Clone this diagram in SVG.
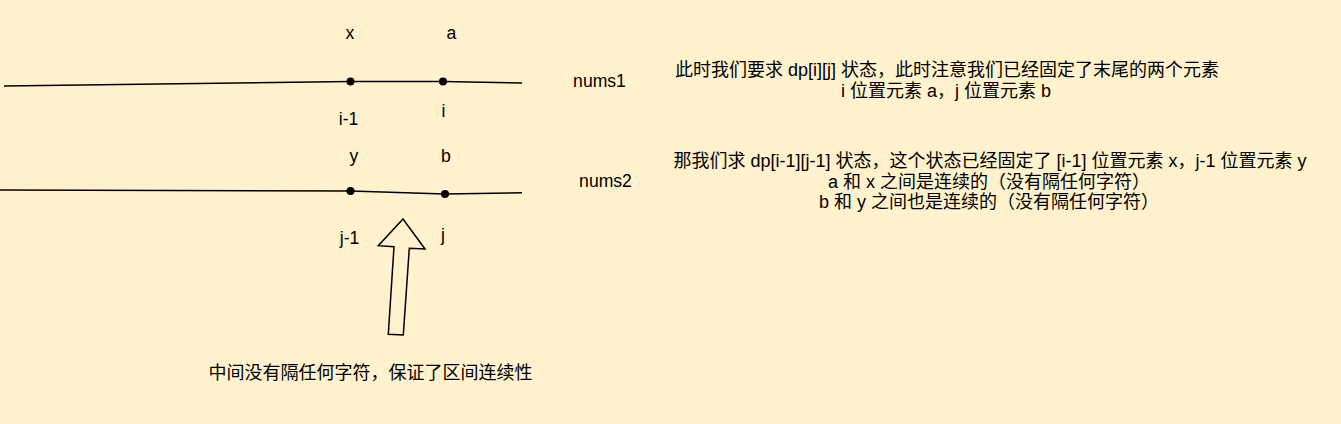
<svg xmlns="http://www.w3.org/2000/svg" width="1341" height="424" viewBox="0 0 1341 424">
  <style>
    text { font-family: "Liberation Sans", Arial, "Noto Sans CJK SC", sans-serif; fill: #000; }
    .lbl { font-size: 17.6px; text-anchor: middle; }
    .para { font-size: 18px; text-anchor: middle; }
    .note { font-size: 18px; text-anchor: middle; }
    .wire { fill: none; stroke: #000; stroke-width: 1.5; }
    .dot { fill: #000; }
    .arrow { fill: #FFF2CC; stroke: #000; stroke-width: 1.5; stroke-linejoin: miter; }
  </style>
  <rect x="0" y="0" width="1341" height="424" fill="#FFF2CC"/>

  <g id="connectors">
    <polyline class="wire" points="4,86 350.5,81.5 443,81.5 522,83"/>
    <polyline class="wire" points="0,190 350.5,191 445,194 522,192.7"/>
  </g>

  <g id="node-x-dot"><circle class="dot" cx="350.5" cy="81.5" r="4"/></g>
  <g id="node-a-dot"><circle class="dot" cx="443" cy="81.5" r="4"/></g>
  <g id="node-y-dot"><circle class="dot" cx="350.5" cy="191" r="4"/></g>
  <g id="node-b-dot"><circle class="dot" cx="445" cy="194" r="4"/></g>

  <g id="label-x"><text class="lbl" x="350" y="39.3">x</text></g>
  <g id="label-a"><text class="lbl" x="451.5" y="39.3">a</text></g>
  <g id="label-i-1"><text class="lbl" x="348.5" y="125">i-1</text></g>
  <g id="label-i"><text class="lbl" x="443.5" y="116.7">i</text></g>
  <g id="label-y"><text class="lbl" x="354" y="162">y</text></g>
  <g id="label-b"><text class="lbl" x="446" y="161.7">b</text></g>
  <g id="label-j-1"><text class="lbl" x="349.5" y="244">j-1</text></g>
  <g id="label-j"><text class="lbl" x="443" y="241">j</text></g>
  <g id="label-nums1"><text class="lbl" x="599.5" y="86.7">nums1</text></g>
  <g id="label-nums2"><text class="lbl" x="605.5" y="186.7">nums2</text></g>

  <g id="arrow-up">
    <polygon class="arrow" points="403,219 425,249 409.3,248.3 403.3,335 388.3,334.3 394,246.7 378.3,245.7"/>
  </g>

  <g id="note-1">
    <text class="para" x="947" y="76">此时我们要求 dp[i][j] 状态，此时注意我们已经固定了末尾的两个元素</text>
    <text class="para" x="946" y="97">i 位置元素 a，j 位置元素 b</text>
  </g>

  <g id="note-2">
    <text class="para" x="990" y="166.7">那我们求 dp[i-1][j-1] 状态，这个状态已经固定了 [i-1] 位置元素 x，j-1 位置元素 y</text>
    <text class="para" x="989" y="187.5">a 和 x 之间是连续的（没有隔任何字符）</text>
    <text class="para" x="989" y="208.3">b 和 y 之间也是连续的（没有隔任何字符）</text>
  </g>

  <g id="note-3">
    <text class="note" x="370.5" y="379">中间没有隔任何字符，保证了区间连续性</text>
  </g>
</svg>
